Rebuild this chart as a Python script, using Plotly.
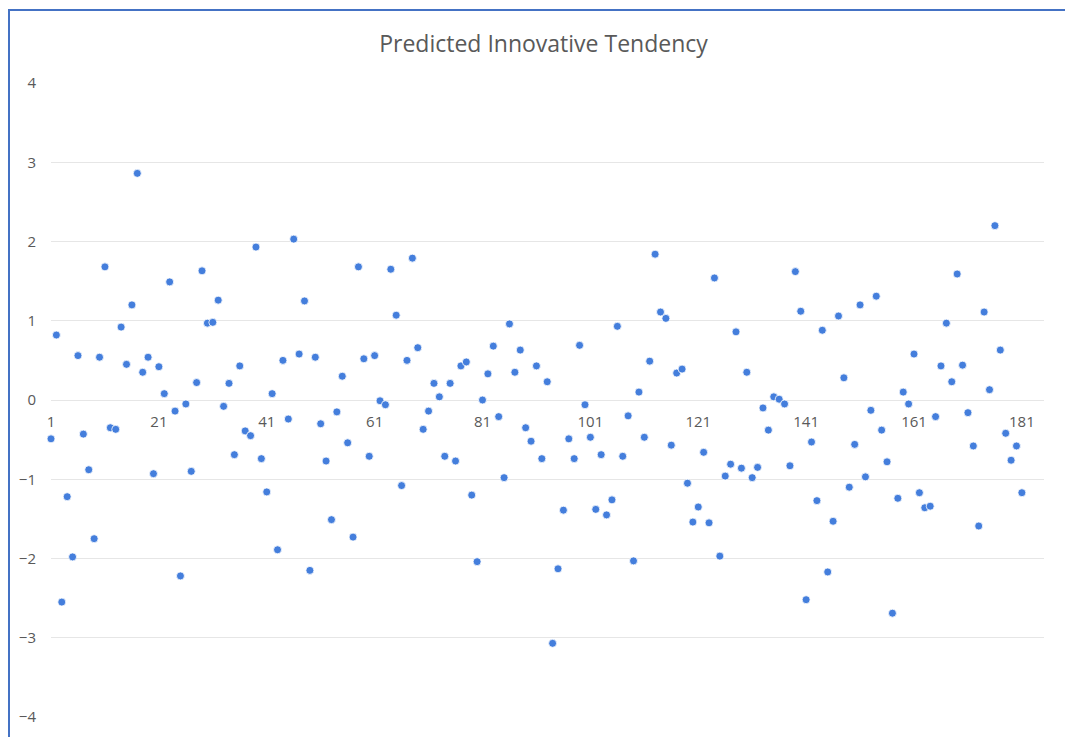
import plotly.graph_objects as go

# Observation index (1..181) and predicted innovative tendency values
index = list(range(1, 182))
tendency = [
    -0.49, 0.82, -2.55, -1.22, -1.98, 0.56, -0.43, -0.88, -1.75, 0.54,
    1.68, -0.35, -0.37, 0.92, 0.45, 1.20, 2.86, 0.35, 0.54, -0.93,
    0.42, 0.08, 1.49, -0.14, -2.22, -0.05, -0.90, 0.22, 1.63, 0.97,
    0.98, 1.26, -0.08, 0.21, -0.69, 0.43, -0.39, -0.45, 1.93, -0.74,
    -1.16, 0.08, -1.89, 0.50, -0.24, 2.03, 0.58, 1.25, -2.15, 0.54,
    -0.30, -0.77, -1.51, -0.15, 0.30, -0.54, -1.73, 1.68, 0.52, -0.71,
    0.56, -0.01, -0.06, 1.65, 1.07, -1.08, 0.50, 1.79, 0.66, -0.37,
    -0.14, 0.21, 0.04, -0.71, 0.21, -0.77, 0.43, 0.48, -1.20, -2.04,
    0.00, 0.33, 0.68, -0.21, -0.98, 0.96, 0.35, 0.63, -0.35, -0.52,
    0.43, -0.74, 0.23, -3.07, -2.13, -1.39, -0.49, -0.74, 0.69, -0.06,
    -0.47, -1.38, -0.69, -1.45, -1.26, 0.93, -0.71, -0.20, -2.03, 0.10,
    -0.47, 0.49, 1.84, 1.11, 1.03, -0.57, 0.34, 0.39, -1.05, -1.54,
    -1.35, -0.66, -1.55, 1.54, -1.97, -0.96, -0.81, 0.86, -0.86, 0.35,
    -0.98, -0.85, -0.10, -0.38, 0.04, 0.01, -0.05, -0.83, 1.62, 1.12,
    -2.52, -0.53, -1.27, 0.88, -2.17, -1.53, 1.06, 0.28, -1.10, -0.56,
    1.20, -0.97, -0.13, 1.31, -0.38, -0.78, -2.69, -1.24, 0.10, -0.05,
    0.58, -1.17, -1.36, -1.34, -0.21, 0.43, 0.97, 0.23, 1.59, 0.44,
    -0.16, -0.58, -1.59, 1.11, 0.13, 2.20, 0.63, -0.42, -0.76, -0.58,
    -1.17,
]
title_text = "Predicted Innovative Tendency"

FONT = "Open Sans, Noto Sans, sans-serif"
GRAY = "#595959"
BLUE = "#4472C4"

fig = go.Figure(
    go.Scatter(
        x=index,
        y=tendency,
        mode="markers",
        cliponaxis=False,
        marker=dict(size=8, color="#447EDC", line=dict(width=0.8, color="white")),
        hoverinfo="x+y",
    )
)

# The page body has an 8px margin, so the figure is drawn 8px in from the window edge.
OFF = 8
W, H = 1073 - OFF, 737 - OFF
L, R, T, B = 51 - OFF, 29, 83 - OFF, 20
pw, ph = W - L - R, H - T - B

def px_x(p):  # window pixel -> paper x
    return (p - OFF - L) / pw

def px_y(p):  # window pixel -> paper y
    return (H - B - (p - OFF)) / ph

fig.update_layout(
    width=W,
    height=H,
    margin=dict(l=L, r=R, t=T, b=B, autoexpand=False),
    paper_bgcolor="white",
    plot_bgcolor="white",
    showlegend=False,
    font=dict(family=FONT, color=GRAY, size=15),
    title=dict(
        text=title_text,
        x=px_x(543.5),
        xref="paper",
        xanchor="center",
        y=1 - (44 - OFF) / H,
        yanchor="middle",
        font=dict(family=FONT, size=23, color=GRAY),
    ),
    xaxis=dict(
        range=[1, 185.1],
        tick0=1,
        dtick=20,
        showgrid=False,
        zeroline=False,
        showline=False,
        ticks="",
        anchor="free",
        position=0.5,
        ticklabelstandoff=11,
        tickfont=dict(size=15, color=GRAY),
    ),
    yaxis=dict(
        range=[-4, 4],
        dtick=1,
        showgrid=True,
        gridcolor="#E6E6E6",
        gridwidth=1,
        zeroline=False,
        showline=False,
        ticks="",
        ticklabelstandoff=14,
        tickfont=dict(size=15, color=GRAY),
    ),
    shapes=[
        dict(
            type="rect",
            xref="paper",
            yref="paper",
            x0=px_x(9),
            x1=px_x(1090),
            y0=px_y(760),
            y1=px_y(10),
            line=dict(color=BLUE, width=2),
            fillcolor="rgba(0,0,0,0)",
            layer="above",
        )
    ],
)

fig.write_html("out.html")
